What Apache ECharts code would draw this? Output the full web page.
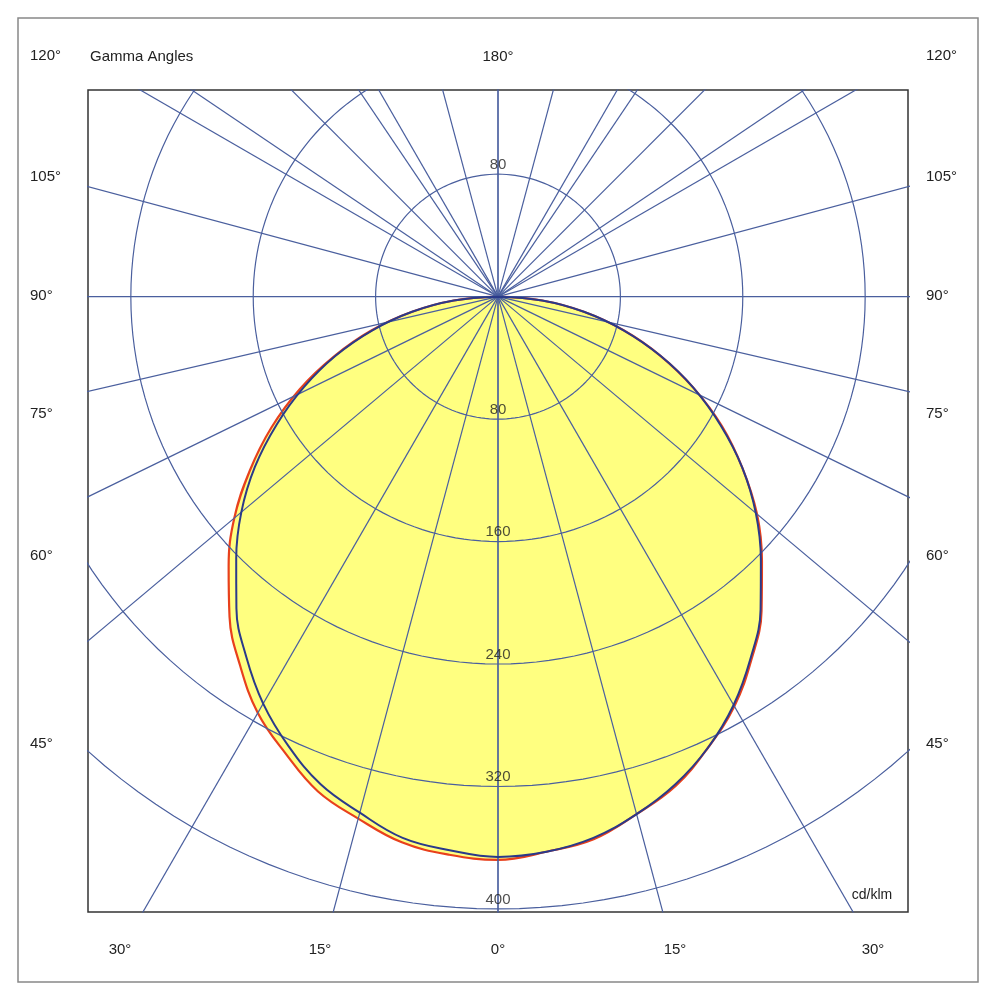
<!DOCTYPE html>
<html><head><meta charset="utf-8">
<script src="https://cdn.jsdelivr.net/npm/echarts@6/dist/echarts.min.js"></script>
<style>html,body{margin:0;padding:0;background:#fff}#c{width:994px;height:1000px}</style>
</head><body><div id="c"></div>
<script>
// Gamma angles (deg) and luminous intensity (cd/klm)
const gammas = [0,5,10,15,20,25,30,35,40,45,50,55,60,65,70,75,80,85,90];
const redLeft  = [368,366,362,353,344,329,314,294,273,249,225,198,171,143,114,86,57,29,0];
const redRight = [366,364,360,350,340,325,309,289,268,244,221,195,169,141,113,85,57,29,0];
const blueLeft = [366,363,359,349,339,324,307,287,266,242,219,194,167,140,113,85,57,29,0];
const blueRight= [366,364,359,350,339,325,308,288,267,243,220,195,168,141,113,85,57,29,0];
const ringValues = [80,160,240,320,400];
const lowerLineAngles = [0,15,30,50,64,77,90];      // from downward vertical
const upperLineAngles = [0,15,30,34,45,56,60,75];  // from upward vertical
const angleLabelsSide = [['120°',57],['105°',178],['90°',297],['75°',415],['60°',557],['45°',745]];
const angleLabelsBottom = [['30°',120],['15°',320],['0°',498],['15°',675],['30°',873]];

const rad = d => d*Math.PI/180;
function curve(left, right){
  const pts=[];
  for(let i=left.length-1;i>=0;i--){const g=rad(gammas[i]);pts.push([-left[i]*Math.sin(g),-left[i]*Math.cos(g)]);}
  for(let i=1;i<right.length;i++){const g=rad(gammas[i]);pts.push([right[i]*Math.sin(g),-right[i]*Math.cos(g)]);}
  return pts;
}
const gridColor='#4a5f9e';
const series=[];
ringValues.forEach(r=>{
  const pts=[];for(let a=0;a<=360;a+=2){pts.push([r*Math.sin(rad(a)),r*Math.cos(rad(a))]);}
  series.push({type:'line',data:pts,showSymbol:false,lineStyle:{color:gridColor,width:1.2},silent:true,z:3});
});
const far=800;
lowerLineAngles.forEach(a=>{[1,-1].forEach(s=>{series.push({type:'line',data:[[0,0],[s*far*Math.sin(rad(a)),-far*Math.cos(rad(a))]],showSymbol:false,lineStyle:{color:gridColor,width:1.2},z:3});});});
upperLineAngles.forEach(a=>{[1,-1].forEach(s=>{series.push({type:'line',data:[[0,0],[s*far*Math.sin(rad(a)),far*Math.cos(rad(a))]],showSymbol:false,lineStyle:{color:gridColor,width:1.2},z:3});});});
series.push({type:'line',data:curve(redLeft,redRight),showSymbol:false,smooth:0.4,areaStyle:{color:'#ffff80',opacity:1,origin:'end'},lineStyle:{color:'#e8401c',width:2.2},z:2});
series.push({type:'line',data:curve(blueLeft,blueRight),showSymbol:false,smooth:0.4,lineStyle:{color:'#2a3a8a',width:2},z:4});
const ringLabelData=[[0,80,'80']].concat(ringValues.map(r=>[0,-r,String(r)]));
series.push({type:'scatter',data:ringLabelData,symbolSize:0,z:6,label:{show:true,position:'top',distance:2,formatter:p=>p.data[2],color:'#222',fontSize:15,fontFamily:'Liberation Sans'}});

const graphics=[{type:'rect',shape:{x:18,y:18,width:960,height:964},style:{fill:'none',stroke:'#888',lineWidth:1.5},z:0}];
const ts={fill:'#222',fontSize:15,fontFamily:'Liberation Sans',textVerticalAlign:'middle'};
angleLabelsSide.forEach(([t,y])=>{
  graphics.push({type:'text',left:30,top:y-9,style:Object.assign({text:t},ts)});
  graphics.push({type:'text',left:926,top:y-9,style:Object.assign({text:t},ts)});
});
angleLabelsBottom.forEach(([t,x])=>{graphics.push({type:'text',x:x,y:950,style:Object.assign({text:t,textAlign:'center'},ts)});});
graphics.push({type:'text',x:498,y:57,style:Object.assign({text:'180°',textAlign:'center'},ts)});
graphics.push({type:'text',x:90,y:57,style:Object.assign({text:'Gamma Angles'},ts)});
graphics.push({type:'text',x:872,y:895,style:Object.assign({text:'cd/klm',textAlign:'center'},ts,{fontSize:14})});

const chart=echarts.init(document.getElementById('c'));
chart.setOption({
  animation:false,
  grid:{left:88,right:86,top:90,bottom:88,show:true,borderColor:'#333',borderWidth:1.5,backgroundColor:'#fff'},
  xAxis:{type:'value',min:-268,max:268,show:false},
  yAxis:{type:'value',min:-402,max:135,show:false},
  series:series,
  graphic:graphics
});
</script></body></html>
